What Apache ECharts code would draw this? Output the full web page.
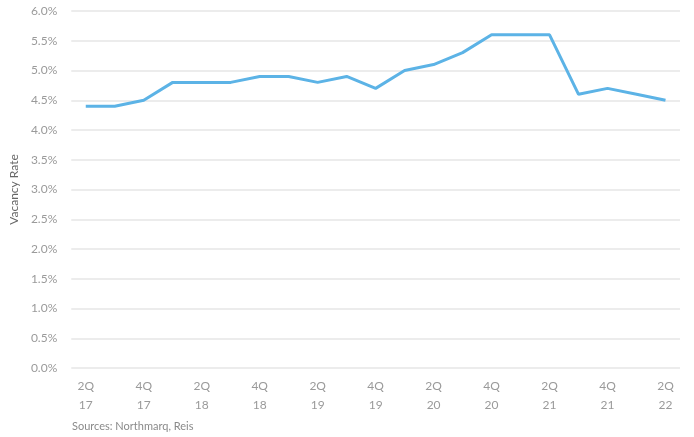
<!DOCTYPE html>
<html>
<head>
<meta charset="utf-8">
<script src="https://cdn.jsdelivr.net/npm/echarts@6/dist/echarts.min.js"></script>
<style>
  html, body { margin: 0; padding: 0; background: #fff; }
  #main { width: 694px; height: 437px; }
</style>
</head>
<body>
<div id="main"></div>
<script>
// quarters 2Q17 .. 2Q22
var quarters = ['2Q\n17', '3Q\n17', '4Q\n17', '1Q\n18', '2Q\n18', '3Q\n18', '4Q\n18',
  '1Q\n19', '2Q\n19', '3Q\n19', '4Q\n19', '1Q\n20', '2Q\n20', '3Q\n20', '4Q\n20',
  '1Q\n21', '2Q\n21', '3Q\n21', '4Q\n21', '1Q\n22', '2Q\n22'];
var vacancy = [4.4, 4.4, 4.5, 4.8, 4.8, 4.8, 4.9, 4.9, 4.8, 4.9, 4.7, 5.0, 5.1, 5.3, 5.6,
  5.6, 5.6, 4.6, 4.7, 4.6, 4.5];

var chart = echarts.init(document.getElementById('main'));
var labelFont = 'Lato, "Noto Sans", sans-serif';
chart.setOption({
  animation: false,
  grid: { left: 71, right: 14, top: 11, bottom: 69 },
  xAxis: {
    type: 'category',
    data: quarters,
    boundaryGap: true,
    axisLine: { show: false },
    axisTick: { show: false },
    axisLabel: {
      interval: 1,
      color: '#9a9a9a',
      fontFamily: labelFont,
      fontSize: 12,
      lineHeight: 19,
      margin: 9
    }
  },
  yAxis: {
    type: 'value',
    min: 0,
    max: 6,
    interval: 0.5,
    name: 'Vacancy Rate',
    nameLocation: 'middle',
    nameGap: 46,
    nameTextStyle: { color: '#666', fontFamily: labelFont, fontSize: 12 },
    axisLabel: {
      color: '#9a9a9a',
      fontFamily: labelFont,
      fontSize: 12,
      margin: 14,
      formatter: function (v) { return v.toFixed(1) + '%'; }
    },
    splitLine: { lineStyle: { color: '#e6e6e6', width: 1.5 } }
  },
  series: [{
    type: 'line',
    data: vacancy,
    symbol: 'none',
    lineStyle: { color: '#5cb3e6', width: 3 }
  }],
  graphic: [{
    type: 'text',
    left: 72,
    top: 421,
    style: { text: 'Sources: Northmarq, Reis', fill: '#8a8a8a', font: '11px ' + labelFont }
  }]
});
</script>
</body>
</html>
